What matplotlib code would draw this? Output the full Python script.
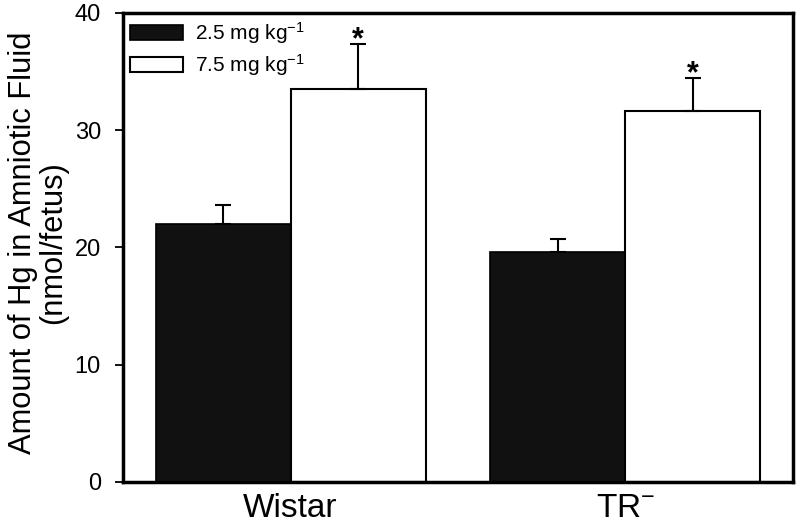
import matplotlib
matplotlib.use("Agg")
import matplotlib.pyplot as plt
import numpy as np

plt.rcParams['font.family'] = ['Liberation Sans', 'DejaVu Sans']
plt.rcParams['mathtext.fontset'] = 'custom'
plt.rcParams['mathtext.rm'] = 'Liberation Sans'
plt.rcParams['mathtext.it'] = 'Liberation Sans'

groups = ["Wistar", "TR$^{-}$"]
series_labels = ["2.5 mg kg$^{-1}$", "7.5 mg kg$^{-1}$"]
low_dose = [22.0, 19.6]
low_err = [1.6, 1.1]
high_dose = [33.5, 31.6]
high_err = [3.8, 2.8]
significant_high = [True, True]

fig = plt.figure(figsize=(8.0, 5.29), dpi=100)
ax = fig.add_axes([0.154, 0.089, 0.837, 0.887])

x = np.arange(len(groups))
w = 0.403
ekw = dict(elinewidth=1.5, capthick=1.5)
ax.bar(x - w/2, low_dose, w, color='#111111', edgecolor='black', linewidth=1.2,
       label=series_labels[0], zorder=2)
ax.errorbar(x - w/2, low_dose, yerr=[np.zeros(2), low_err], fmt='none',
            ecolor='black', capsize=5.5, zorder=3, **ekw)
ax.bar(x + w/2, high_dose, w, color='white', edgecolor='black', linewidth=1.5,
       label=series_labels[1], zorder=2)
ax.errorbar(x + w/2, high_dose, yerr=[np.zeros(2), high_err], fmt='none',
            ecolor='black', capsize=5.5, zorder=3, **ekw)

for xi, v, e, s in zip(x + w/2, high_dose, high_err, significant_high):
    if s:
        ax.text(xi, v + e - 0.3, "*", ha='center', va='baseline', fontsize=22,
                fontweight='bold')

ax.set_xlim(-0.5, 1.5)
ax.set_ylim(0, 40)
ax.set_yticks([0, 10, 20, 30, 40])
ax.set_xticks(x)
ax.set_xticklabels(groups, fontsize=24)
ax.tick_params(axis='x', length=0, pad=8)
ax.tick_params(axis='y', direction='out', length=6, width=1.3, labelsize=17, pad=10)
for sp in ax.spines.values():
    sp.set_linewidth(2.5)

ax.set_ylabel("Amount of Hg in Amniotic Fluid\n(nmol/fetus)", fontsize=22.2,
              linespacing=1.0)
ax.yaxis.set_label_coords(-0.082, 0.51)

ax.legend(loc='upper left', frameon=False, fontsize=15, handlelength=2.5,
          handleheight=0.72, borderaxespad=0.15, labelspacing=0.28,
          handletextpad=0.6, borderpad=0.2)

fig.savefig("out.png", dpi=100)
